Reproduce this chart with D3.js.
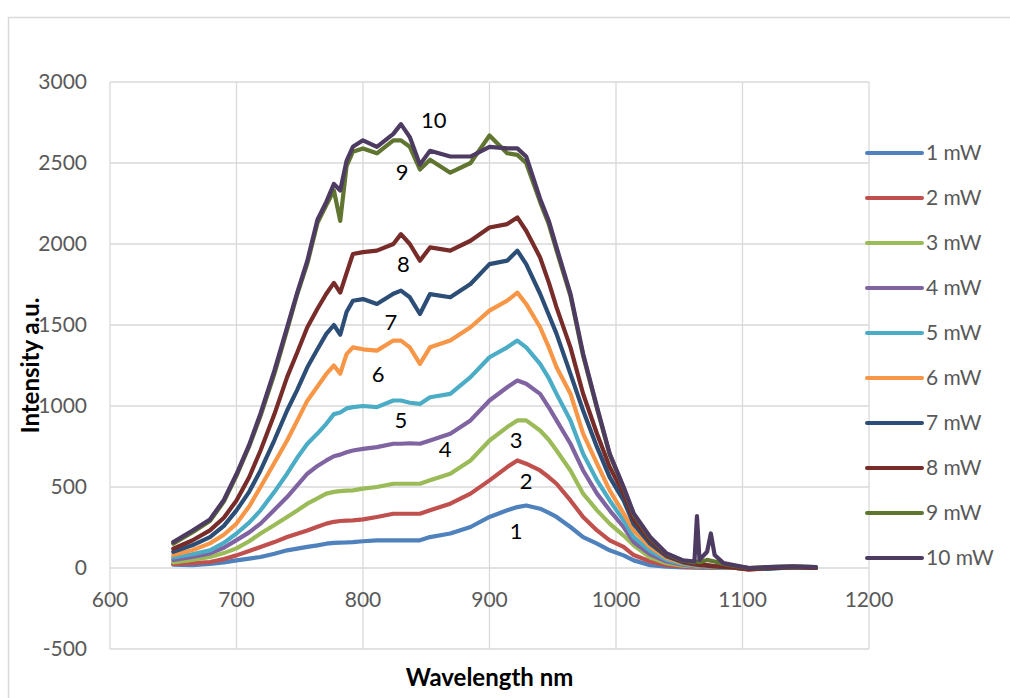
<!DOCTYPE html>
<html>
<head>
<meta charset="utf-8">
<script src="https://cdn.jsdelivr.net/npm/d3@7"></script>
<style>
  body { margin: 0; background: #fff; }
  svg { display: block; font-family: Lato, "Open Sans", sans-serif; }
</style>
</head>
<body>
<div id="chart"></div>
<script>
// Wavelength grid (nm)
const wavelengths = [650, 665, 679, 690, 700, 710, 719, 730, 740, 748, 756, 764, 771, 777, 782, 787, 792, 800, 811, 824,
  830, 837, 845, 853, 869, 885, 900, 914, 922, 929, 940, 947, 953, 964, 974, 985, 995, 1006, 1014, 1027,
  1040, 1053, 1062, 1064, 1066, 1072, 1075, 1078, 1085, 1095, 1105, 1120, 1140, 1158];

// Intensity per laser power (a.u.)
const p1 = [20, 18, 25, 35, 47, 58, 68, 88, 109, 120, 130, 140, 150, 155, 157, 158, 160, 165, 171, 171,
  171, 171, 171, 191, 213, 253, 315, 356, 376, 386, 366, 340, 315, 253, 191, 150, 109, 78, 47, 17,
  8, 3, 2, 2, 2, 1, 1, 0, 0, 0, -5, 0, 5, 0];
const p2 = [25, 30, 37, 55, 78, 105, 130, 160, 191, 212, 232, 255, 274, 285, 290, 292, 294, 300, 315, 335,
  335, 335, 335, 356, 397, 459, 541, 623, 664, 644, 602, 560, 520, 417, 315, 232, 171, 130, 80, 40,
  18, 8, 5, 5, 4, 3, 3, 2, 0, 0, -5, 0, 5, 0];
const p3 = [35, 50, 68, 92, 121, 165, 213, 265, 315, 355, 397, 430, 459, 470, 475, 478, 479, 490, 500, 520,
  520, 520, 520, 541, 582, 664, 787, 870, 911, 911, 849, 790, 725, 602, 459, 356, 274, 200, 140, 65,
  30, 15, 10, 9, 8, 6, 5, 4, 2, 0, -5, 0, 5, 0];
const p4 = [50, 68, 90, 125, 172, 220, 274, 360, 438, 510, 582, 630, 664, 690, 700, 715, 725, 735, 746, 767,
  767, 770, 767, 787, 829, 911, 1034, 1116, 1157, 1137, 1075, 990, 911, 767, 602, 459, 356, 253, 160, 85,
  40, 20, 12, 11, 10, 8, 6, 5, 3, 0, -5, 0, 5, 0];
const p5 = [65, 85, 109, 155, 213, 280, 356, 470, 582, 680, 767, 830, 890, 950, 960, 985, 993, 1000, 993, 1034,
  1034, 1020, 1013, 1054, 1075, 1178, 1301, 1362, 1404, 1362, 1260, 1170, 1075, 911, 705, 541, 417, 294, 190, 105,
  50, 25, 15, 14, 12, 10, 8, 6, 4, 0, -5, 0, 5, 0];
const p6 = [80, 110, 152, 205, 274, 380, 500, 650, 787, 910, 1033, 1120, 1198, 1250, 1200, 1320, 1362, 1350, 1342, 1404,
  1404, 1362, 1260, 1362, 1404, 1486, 1589, 1650, 1700, 1630, 1486, 1360, 1239, 1076, 829, 644, 479, 337, 230, 130,
  62, 30, 18, 16, 15, 12, 10, 8, 5, 0, -5, 0, 5, 0];
const p7 = [100, 140, 191, 260, 356, 470, 602, 790, 972, 1100, 1239, 1350, 1445, 1500, 1440, 1580, 1650, 1660, 1630, 1693,
  1712, 1671, 1568, 1691, 1671, 1753, 1876, 1897, 1959, 1876, 1693, 1560, 1445, 1198, 972, 746, 561, 417, 270, 150,
  72, 35, 22, 20, 18, 15, 12, 10, 6, 5, 0, -5, 5, 0];
const p8 = [120, 170, 232, 310, 417, 560, 725, 950, 1178, 1330, 1486, 1600, 1693, 1760, 1700, 1820, 1938, 1950, 1959, 2000,
  2061, 2000, 1897, 1979, 1959, 2020, 2102, 2123, 2164, 2082, 1917, 1760, 1609, 1362, 1076, 829, 623, 460, 300, 170,
  80, 40, 25, 25, 22, 18, 15, 12, 8, 0, -10, 0, 5, 0];
const p9 = [150, 220, 290, 410, 570, 750, 940, 1200, 1470, 1690, 1880, 2130, 2240, 2330, 2143, 2480, 2570, 2590, 2560, 2640,
  2640, 2600, 2460, 2520, 2440, 2500, 2670, 2560, 2550, 2500, 2260, 2120, 1960, 1680, 1310, 985, 700, 495, 330, 185,
  88, 45, 35, 40, 35, 50, 45, 40, 25, 12, 0, 5, 10, 5];
const p10 = [160, 230, 300, 420, 580, 760, 954, 1220, 1486, 1700, 1897, 2150, 2260, 2371, 2330, 2513, 2600, 2640, 2600, 2680,
  2740, 2660, 2490, 2575, 2540, 2540, 2600, 2590, 2590, 2540, 2280, 2140, 1979, 1693, 1323, 993, 707, 500, 337, 191,
  90, 47, 40, 320, 50, 100, 213, 80, 30, 15, 0, 5, 10, 5];

const seriesNames = ["1 mW", "2 mW", "3 mW", "4 mW", "5 mW", "6 mW", "7 mW", "8 mW", "9 mW", "10 mW"];
const seriesValues = [p1, p2, p3, p4, p5, p6, p7, p8, p9, p10];
const colors = ["#4f81bd", "#c0504d", "#9bbb59", "#8064a2", "#4bacc6", "#f79646", "#2c4d75", "#772c2a", "#5f7530", "#4d3b62"];

// Curve labels as placed in the picture: [text, wavelength, intensity]
const curveLabels = [["10", 856, 2766], ["9", 831, 2440], ["8", 832, 1872], ["7", 822, 1515], ["6", 812, 1194],
  ["5", 830, 911], ["4", 865, 735], ["3", 921, 787], ["2", 929, 535], ["1", 921, 226]];

const xTicks = [600, 700, 800, 900, 1000, 1100, 1200];
const yTicks = [-500, 0, 500, 1000, 1500, 2000, 2500, 3000];

const width = 1010, height = 698;
const margin = { left: 110, right: 141, top: 82, bottom: 49 };

const svg = d3.select("#chart")
  .append("svg")
  .attr("width", width)
  .attr("height", height);

// chart area border
svg.append("rect")
  .attr("x", 8.5)
  .attr("y", 17.5)
  .attr("width", 1010)
  .attr("height", 700)
  .attr("fill", "none")
  .attr("stroke", "#d9d9d9")
  .attr("stroke-width", 1.5);

const x = d3.scaleLinear().domain([600, 1200]).range([margin.left, width - margin.right]);
const y = d3.scaleLinear().domain([-500, 3000]).range([height - margin.bottom, margin.top]);

// gridlines
const grid = svg.append("g")
  .attr("stroke", "#d9d9d9")
  .attr("stroke-width", 1.3);
grid.selectAll(".gx")
  .data(xTicks)
  .join("line")
  .attr("x1", d => x(d)).attr("x2", d => x(d))
  .attr("y1", y(3000)).attr("y2", y(-500));
grid.selectAll(".gy")
  .data(yTicks)
  .join("line")
  .attr("class", "gy")
  .attr("x1", x(600)).attr("x2", x(1200))
  .attr("y1", d => y(d)).attr("y2", d => y(d));

// tick labels
svg.append("g")
  .selectAll("text")
  .data(yTicks)
  .join("text")
  .attr("x", 87)
  .attr("y", d => y(d))
  .attr("dy", "0.35em")
  .attr("text-anchor", "end")
  .attr("fill", "#595959")
  .attr("font-size", 21)
  .text(d => d);

svg.append("g")
  .selectAll("text")
  .data(xTicks)
  .join("text")
  .attr("x", d => x(d))
  .attr("y", y(0) + 32)
  .attr("dy", "0.35em")
  .attr("text-anchor", "middle")
  .attr("fill", "#595959")
  .attr("font-size", 21)
  .text(d => d);

// axis titles
svg.append("text")
  .attr("transform", `translate(31,${(y(3000) + y(-500)) / 2}) rotate(-90)`)
  .attr("text-anchor", "middle")
  .attr("dy", "0.35em")
  .attr("font-weight", "bold")
  .attr("font-size", 24)
  .attr("fill", "#000")
  .text("Intensity a.u.");

svg.append("text")
  .attr("x", (x(600) + x(1200)) / 2)
  .attr("y", 678)
  .attr("dy", "0.35em")
  .attr("text-anchor", "middle")
  .attr("font-weight", "bold")
  .attr("font-size", 24)
  .attr("fill", "#000")
  .text("Wavelength nm");

// spectra
const line = d3.line()
  .x((d, i) => x(wavelengths[i]))
  .y(d => y(d));

svg.append("g")
  .attr("fill", "none")
  .attr("stroke-width", 4.2)
  .attr("stroke-linejoin", "round")
  .attr("stroke-linecap", "round")
  .selectAll("path")
  .data(seriesValues)
  .join("path")
  .attr("stroke", (d, i) => colors[i])
  .attr("d", line);

// curve labels
svg.append("g")
  .selectAll("text")
  .data(curveLabels)
  .join("text")
  .attr("x", d => x(d[1]))
  .attr("y", d => y(d[2]))
  .attr("dy", "0.35em")
  .attr("text-anchor", "middle")
  .attr("font-size", 22)
  .attr("fill", "#000")
  .text(d => d[0]);

// legend
const legend = svg.append("g")
  .selectAll("g")
  .data(seriesNames)
  .join("g")
  .attr("transform", (d, i) => `translate(867,${153 + i * 45})`);
legend.append("line")
  .attr("x1", 0).attr("x2", 55)
  .attr("stroke", (d, i) => colors[i])
  .attr("stroke-width", 4)
  .attr("stroke-linecap", "round");
legend.append("text")
  .attr("x", 59)
  .attr("dy", "0.35em")
  .attr("font-size", 21)
  .attr("fill", "#595959")
  .text(d => d);
</script>
</body>
</html>
